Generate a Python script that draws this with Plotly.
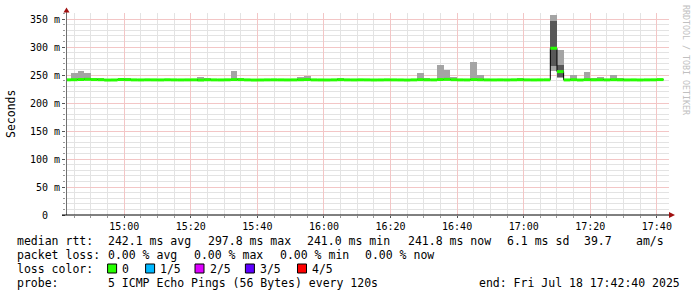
import plotly.graph_objects as go
from datetime import datetime, timedelta

# ---------------- data ----------------
first_step = datetime(2025, 7, 18, 14, 42)      # start of first 2-minute step
step_len = timedelta(minutes=2)
view_start = datetime(2025, 7, 18, 14, 42, 31)
view_end = datetime(2025, 7, 18, 17, 43, 39)

# median rtt per 2-minute step (ms), 90 steps 14:42 .. 17:42
median_ms = [
    241.4, 241.6, 242.0, 242.3, 241.8, 241.6, 241.0, 241.1, 241.9, 241.7,
    241.3, 241.2, 241.4, 241.3, 241.2, 241.5, 241.3, 241.2, 241.3, 241.4,
    241.0, 241.5, 241.3, 241.2, 241.4, 241.8, 241.7, 241.3, 241.0, 241.1,
    241.3, 241.4, 241.3, 241.2, 241.3, 241.5, 241.8, 241.3, 241.2, 241.1,
    241.3, 241.6, 241.3, 241.2, 241.4, 241.3, 241.1, 241.2, 241.4, 241.3,
    241.2, 241.0, 241.3, 241.7, 241.4, 241.3, 241.9, 242.2, 241.6, 241.3,
    241.2, 241.8, 241.5, 241.3, 241.2, 241.3, 241.2, 241.4, 241.6, 241.3,
    241.2, 241.3, 241.4, 297.8, 256.0, 241.2, 241.6, 241.1, 241.7, 241.4,
    241.5, 241.3, 241.6, 241.4, 241.2, 241.3, 241.1, 241.3, 241.4, 241.8,
]
loss_count = [0] * 90   # no packet loss in any step

# smoke (ping spread) for the steps where it is visible
smoke_steps = [1, 2, 3, 4, 5, 8, 9, 20, 21, 25, 26, 35, 36, 41, 53,
               54, 56, 57, 58, 61, 62, 68, 73, 74, 76, 78, 79, 80, 82, 83]
smoke_min_ms = [240.8, 241.0, 241.2, 240.9, 240.8, 240.9, 240.8, 240.6, 240.9, 241.0,
                240.9, 240.8, 241.0, 240.9, 241.0, 240.8, 241.1, 241.3, 240.9, 241.1,
                240.9, 240.9, 257.0, 244.5, 240.9, 241.0, 240.8, 240.9, 240.9, 240.8]
smoke_max_ms = [253.6, 257.0, 253.6, 245.0, 245.0, 245.0, 245.0, 246.4, 245.0, 257.0,
                245.0, 246.4, 249.0, 245.0, 253.6, 245.0, 268.0, 259.0, 246.4, 273.0,
                250.0, 245.0, 357.0, 294.6, 250.0, 255.0, 245.0, 246.4, 250.0, 245.0]
inner_lo_ms = [241.2, 241.6, 241.8, 241.4, 241.2, 241.5, 241.3, 240.9, 241.2, 241.5,
               241.4, 241.2, 241.5, 241.3, 241.4, 241.2, 241.6, 241.8, 241.3, 241.6,
               241.3, 241.4, 266.0, 247.0, 241.4, 241.5, 241.2, 241.3, 241.4, 241.2]
inner_hi_ms = [242.0, 242.5, 244.6, 242.2, 242.0, 244.0, 242.1, 241.2, 241.8, 242.2,
               241.9, 241.8, 242.1, 241.9, 242.0, 241.7, 242.3, 244.6, 241.9, 242.1,
               241.8, 241.8, 346.0, 268.0, 241.9, 242.0, 241.7, 241.8, 242.0, 241.7]

y_tick_vals = [0, 50, 100, 150, 200, 250, 300, 350]
y_tick_text = ["0\u00a0\u00a0", "50 m", "100 m", "150 m", "200 m", "250 m", "300 m", "350 m"]

loss_labels = ["0", "1/5", "2/5", "3/5", "4/5"]
loss_colors = ["#26ff00", "#00b8ff", "#dd00ff", "#5e00ff", "#ff0000"]

stats_line = [("median rtt:", 16), ("242.1 ms avg", 106.5), ("297.8 ms max", 206.7),
              ("241.0 ms min", 306.3), ("241.8 ms now", 406.8), ("6.1 ms sd", 506.4),
              ("39.7", 583), ("am/s", 635.4)]
loss_line = [("packet loss:", 16), ("0.00 % avg", 106.5), ("0.00 % max", 193),
             ("0.00 % min", 278.8), ("0.00 % now", 364)]
probe_line = [("probe:", 16), ("5 ICMP Echo Pings (56 Bytes) every 120s", 106.5),
              ("end: Fri Jul 18 17:42:40 2025", 477.5)]

# ---------------- layout geometry ----------------
W, H = 697, 297
L, R, T, B = 66, 28, 13, 82
PW, PH = W - L - R, H - T - B
MONO = "DejaVu Sans Mono"


def px(xp):
    return (xp - L) / PW


def py(yp):
    return (T + PH - yp) / PH


fig = go.Figure()

# smoke: outer band then inner band
centers = [first_step + step_len * k + step_len / 2 for k in smoke_steps]
wms = step_len.total_seconds() * 1000
fig.add_trace(go.Bar(
    x=centers, base=smoke_min_ms,
    y=[hi - lo for lo, hi in zip(smoke_min_ms, smoke_max_ms)],
    width=[wms] * len(centers), marker=dict(color="#a4a4a4", line=dict(width=0)),
    hoverinfo="skip"))
fig.add_trace(go.Bar(
    x=centers, base=inner_lo_ms,
    y=[hi - lo for lo, hi in zip(inner_lo_ms, inner_hi_ms)],
    width=[wms] * len(centers), marker=dict(color="#585858", line=dict(width=0)),
    hoverinfo="skip"))

# thin black median step line
edges = [first_step + step_len * k for k in range(len(median_ms) + 1)]
fig.add_trace(go.Scatter(x=edges, y=median_ms + [median_ms[-1]], mode="lines",
                         line=dict(color="#000000", width=1, shape="hv"), hoverinfo="skip"))

# thick loss-colored median segments
for li, col in enumerate(loss_colors):
    xs, ys = [], []
    for k, (m, lc) in enumerate(zip(median_ms, loss_count)):
        if lc == li:
            xs += [edges[k], edges[k + 1], None]
            ys += [m, m, None]
    if xs:
        fig.add_trace(go.Scatter(x=xs, y=ys, mode="lines",
                                 line=dict(color=col, width=3), hoverinfo="skip"))

major_grid = "#f3c6c6"
minor_grid = "#e3e3e3"

fig.update_layout(
    width=W, height=H, margin=dict(l=L, r=R, t=T, b=B),
    paper_bgcolor="white", plot_bgcolor="white", showlegend=False,
    barmode="overlay", bargap=0,
    font=dict(family=MONO, size=10, color="black"),
    xaxis=dict(
        type="date", range=[view_start, view_end],
        tick0="2025-07-18 15:00:00", dtick=20 * 60 * 1000, tickformat="%H:%M",
        showgrid=True, gridcolor=major_grid, griddash="solid", gridwidth=1,
        ticks="outside", ticklen=2, tickcolor="#555",
        minor=dict(dtick=5 * 60 * 1000, showgrid=True, gridcolor=minor_grid,
                   griddash="solid", gridwidth=1, ticks="outside", ticklen=2, tickcolor="#999"),
        zeroline=False, showline=False, fixedrange=True,
        tickfont=dict(family=MONO, size=10),
    ),
    yaxis=dict(
        range=[0, PH / 0.56], tickvals=y_tick_vals, ticktext=y_tick_text,
        showgrid=True, gridcolor=major_grid, griddash="solid", gridwidth=1,
        ticks="outside", ticklen=3, tickcolor="#555",
        minor=dict(tick0=0, dtick=10, showgrid=True, gridcolor=minor_grid, griddash="solid",
                   gridwidth=1, ticks="outside", ticklen=2, tickcolor="#999"),
        zeroline=False, showline=False, fixedrange=True,
        tickfont=dict(family=MONO, size=10),
    ),
)

shapes = []
# y axis line + arrow
shapes.append(dict(type="line", xref="paper", yref="paper",
                   x0=px(66.5), x1=px(66.5), y0=py(215), y1=py(11),
                   line=dict(color="#707070", width=1)))
shapes.append(dict(type="path", xref="paper", yref="paper",
                   path=f"M {px(63.5)},{py(12.5)} L {px(69.5)},{py(12.5)} L {px(66.5)},{py(7.5)} Z",
                   fillcolor="#a01010", line=dict(width=0)))
# x axis line + arrow
shapes.append(dict(type="line", xref="paper", yref="paper",
                   x0=px(62), x1=px(670), y0=py(215), y1=py(215),
                   line=dict(color="#000000", width=1)))
shapes.append(dict(type="path", xref="paper", yref="paper",
                   path=f"M {px(669)},{py(212)} L {px(669)},{py(218)} L {px(675)},{py(215)} Z",
                   fillcolor="#a01010", line=dict(width=0)))

annotations = []
LEG = 11.5


def text_at(txt, xp, yp, size=LEG, **kw):
    annotations.append(dict(text=txt, x=px(xp), y=py(yp), xref="paper", yref="paper",
                            xanchor="left", yanchor="middle", showarrow=False,
                            font=dict(family=MONO, size=size, color="black"),
                            borderpad=0, **kw))


for txt, xp in stats_line:
    text_at(txt, xp, 241)
for txt, xp in loss_line:
    text_at(txt, xp, 255)
text_at("loss color:", 16, 268.5)
box_x = [107.6, 145.6, 195.0, 245.4, 297.5]
for lab, col, bx in zip(loss_labels, loss_colors, box_x):
    shapes.append(dict(type="rect", xref="paper", yref="paper",
                       x0=px(bx), x1=px(bx + 9), y0=py(273), y1=py(264),
                       fillcolor=col, line=dict(color="black", width=1)))
    text_at(lab, bx + 13.5, 268.5)
for txt, xp in probe_line:
    text_at(txt, xp, 283)

# y-axis title
annotations.append(dict(text="Seconds", x=px(11), y=py(114), xref="paper", yref="paper",
                        xanchor="center", yanchor="middle", showarrow=False, textangle=-90,
                        font=dict(family=MONO, size=11.5, color="black")))
# watermark
annotations.append(dict(text="RRDTOOL / TOBI OETIKER", x=px(686), y=py(60), xref="paper",
                        yref="paper", xanchor="center", yanchor="middle", showarrow=False,
                        textangle=90, font=dict(family=MONO, size=8.3, color="#c0c0c0")))

fig.update_layout(shapes=shapes, annotations=annotations)
fig.write_html("out.html")
